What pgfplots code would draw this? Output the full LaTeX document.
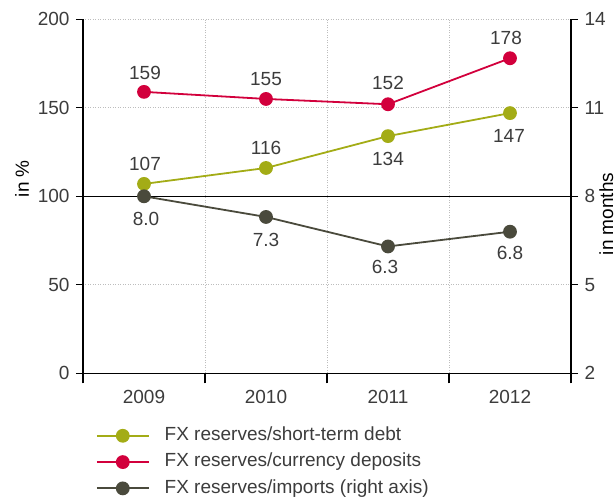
\documentclass[border=0pt]{standalone}
\usepackage{pgfplots}
\pgfplotsset{compat=1.18}
\usepackage{pgfplotstable}
\usepackage{fontspec}
\setmainfont{Liberation Sans}
\definecolor{cgreen}{HTML}{A3AC16}
\definecolor{cred}{HTML}{D2003C}
\definecolor{cdark}{HTML}{4A4A3C}
\definecolor{ctext}{HTML}{3C3C3C}
\definecolor{cgrid}{HTML}{BDBDBD}

\pgfplotstableread{
x y lbl dx dy
0 107 107 1 20
1 116 116 0 20
2 134 134 0 -23
3 147 147 -1 -23
}\greendata
\pgfplotstableread{
x y lbl dx dy
0 159 159 1 19
1 155 155 0 20
2 152 152 0 21
3 178 178 -4 20
}\reddata
\pgfplotstableread{
x y lbl dx dy
0 8.0 8.0 2 -23
1 7.3 7.3 0 -23
2 6.3 6.3 -3 -21
3 6.8 6.8 0 -21
}\darkdata

\pgfplotsset{
  common/.style={
    scale only axis, width=488pt, height=354pt,
    xmin=-0.5, xmax=3.5, clip=false,
    tick align=outside, major tick length=7pt,
    x axis line style={-, line width=1.1pt, black},
    y axis line style={-, line width=1.1pt, black},
    every tick/.style={black, line width=1.1pt},
    tick label style={text=ctext, font=\fontsize{19}{22}\selectfont},
    label style={text=ctext, font=\fontsize{19}{22}\selectfont},
    /pgf/number format/assume math mode=true,
  },
  ser/.style={color=#1, line width=1.8pt, mark=*, mark size=6pt,
    mark options={draw=none, fill=#1}},
  lbls/.style={nodes near coords, point meta=explicit symbolic,
    visualization depends on={\thisrow{dx} \as \dx},
    visualization depends on={\thisrow{dy} \as \dy},
    every node near coord/.append style={anchor=center, xshift=\dx pt, yshift=\dy pt,
      text=ctext, inner sep=0pt, font=\fontsize{19}{22}\selectfont}},
}

\begin{document}
\fontsize{19}{22}\selectfont
\begin{tikzpicture}
\begin{axis}[common,
  ymin=0, ymax=200,
  axis x line*=bottom, axis y line*=left,
  xtick={0,1,2,3}, xticklabels={2009,2010,2011,2012},
  major x tick style={draw=none},
  minor xtick={-0.5,0.5,1.5,2.5,3.5},
  minor tick length=10pt,
  minor x tick style={black, line width=1.1pt},
  xminorgrids,
  minor x grid style={cgrid, line width=0.8pt, dash pattern=on 1pt off 1.5pt},
  ytick={0,50,100,150,200},
  ymajorgrids,
  major y grid style={cgrid, line width=0.8pt, dash pattern=on 1pt off 1.5pt},
  extra y ticks={100}, extra y tick labels={},
  extra y tick style={major tick length=0pt, ymajorgrids, major y grid style={solid, black, line width=1.1pt}},
  xticklabel style={yshift=-3pt},
  ylabel={in \%},
  every axis y label/.style={at={(axis description cs:-0.125,0.55)}, rotate=90, anchor=center},
  legend cell align=left,
  legend style={at={(axis description cs:0.026,-0.145)}, anchor=north west,
    draw=none, fill=none, inner sep=0pt, row sep=4.4pt, column sep=13pt,
    font=\fontsize{19}{22}\selectfont,
    nodes={text=ctext, inner sep=2pt, text height=13.7pt, text depth=4.2pt}},
  legend image code/.code={\draw[mark repeat=2, mark phase=2, #1]
    plot coordinates {(0pt,0pt) (26pt,0pt) (52pt,0pt)};},
]
\addplot[ser=cgreen, lbls] table[x=x, y=y, meta=lbl] {\greendata};
\addlegendentry{FX reserves/short-term debt}
\addplot[ser=cred, lbls] table[x=x, y=y, meta=lbl] {\reddata};
\addlegendentry{FX reserves/currency deposits}
\addlegendimage{ser=cdark}
\addlegendentry{FX reserves/imports (right axis)}
\end{axis}
\begin{axis}[common,
  ymin=2, ymax=14,
  axis x line=none, axis y line*=right,
  ytick={2,5,8,11,14},
  ylabel={in months},
  every axis y label/.style={at={(axis description cs:1.0725,0.45)}, rotate=90, anchor=center, inner sep=0pt},
]
\addplot[ser=cdark, lbls] table[x=x, y=y, meta=lbl] {\darkdata};
\end{axis}
\pgfresetboundingbox
\useasboundingbox (-83pt,-129.7pt) rectangle (533pt,373.3pt);
\end{tikzpicture}
\end{document}
